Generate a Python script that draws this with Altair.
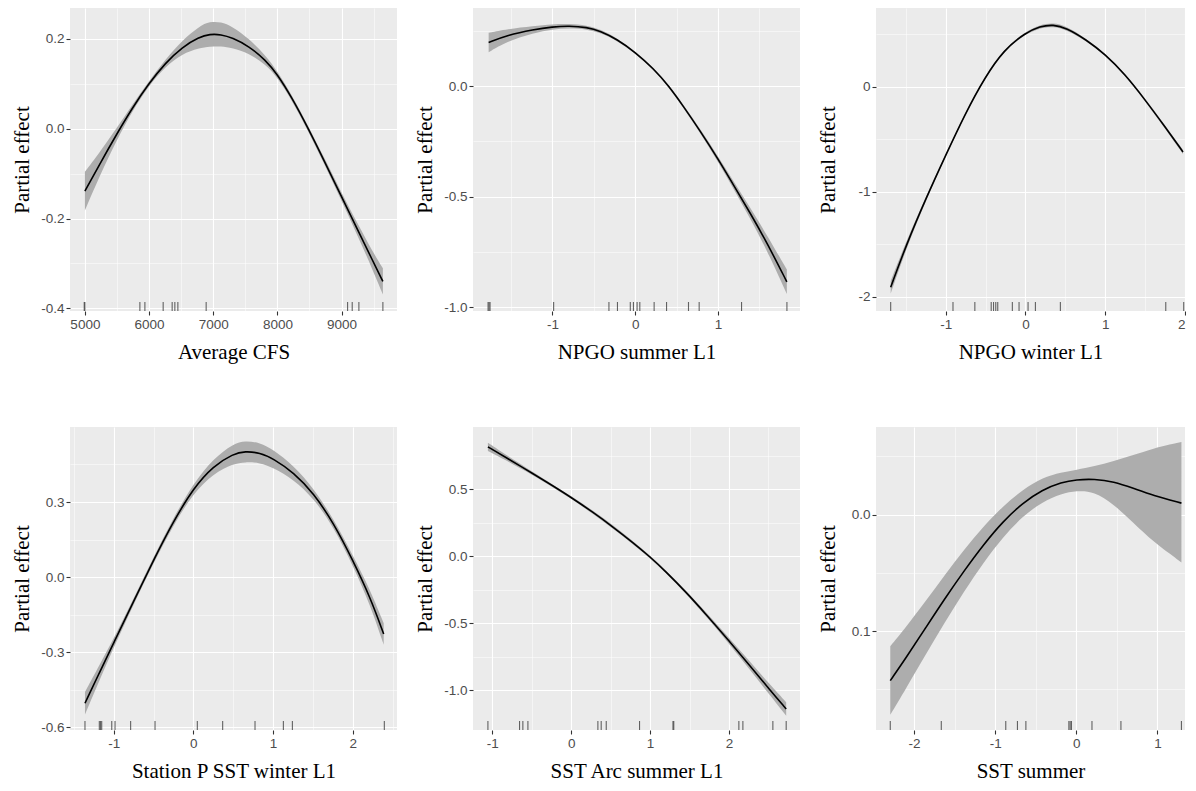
import json
import altair as alt
import pandas as pd

# ---------------- Panel 1: Average CFS ----------------
P1_X = [5000, 5218, 5499, 5738, 5997, 6257, 6517, 6777, 6950, 7120, 7296, 7556, 7816, 7997, 8231, 8465, 8725, 8984, 9244, 9478, 9644]
P1_FIT = [-0.139, -0.082, -0.011, 0.046, 0.101, 0.147, 0.182, 0.204, 0.211, 0.210, 0.203, 0.184, 0.153, 0.122, 0.068, 0.005, -0.070, -0.147, -0.223, -0.292, -0.340]
P1_LO = [-0.182, -0.109, -0.024, 0.039, 0.096, 0.139, 0.167, 0.180, 0.183, 0.184, 0.180, 0.168, 0.143, 0.115, 0.062, -0.001, -0.077, -0.156, -0.236, -0.312, -0.369]
P1_HI = [-0.096, -0.055, 0.002, 0.053, 0.106, 0.155, 0.197, 0.228, 0.239, 0.238, 0.228, 0.201, 0.163, 0.129, 0.074, 0.011, -0.063, -0.138, -0.210, -0.272, -0.311]
P1_RUG = [4990, 5000, 5857, 5935, 6220, 6360, 6402, 6449, 6890, 9094, 9166, 9270, 9644]
P1_X_TICKS = [5000, 6000, 7000, 8000, 9000]
P1_X_LABELS = ["5000", "6000", "7000", "8000", "9000"]
P1_X_MINOR = [5500, 6500, 7500, 8500, 9500]
P1_Y_TICKS = [-0.4, -0.2, 0.0, 0.2]
P1_Y_LABELS = ["-0.4", "-0.2", "0.0", "0.2"]
P1_Y_MINOR = [-0.3, -0.1, 0.1]

# ---------------- Panel 2: NPGO summer L1 ----------------
P2_X = [-1.771, -1.549, -1.227, -1.0, -0.800, -0.584, -0.423, -0.221, 0.0, 0.221, 0.402, 0.583, 0.785, 1.0, 1.187, 1.388, 1.590, 1.831]
P2_FIT = [0.197, 0.230, 0.256, 0.268, 0.272, 0.266, 0.249, 0.212, 0.153, 0.079, 0.002, -0.092, -0.203, -0.329, -0.447, -0.573, -0.707, -0.884]
P2_LO = [0.153, 0.202, 0.240, 0.256, 0.262, 0.257, 0.241, 0.206, 0.148, 0.074, -0.004, -0.099, -0.212, -0.341, -0.464, -0.597, -0.741, -0.939]
P2_HI = [0.241, 0.258, 0.272, 0.280, 0.282, 0.275, 0.257, 0.218, 0.158, 0.084, 0.008, -0.085, -0.194, -0.317, -0.430, -0.549, -0.673, -0.829]
P2_RUG = [-1.778, -1.766, -1.754, -0.986, -0.318, -0.215, -0.060, -0.022, 0.022, 0.055, 0.228, 0.378, 0.643, 0.772, 1.284, 1.832]
P2_X_TICKS = [-1, 0, 1]
P2_X_LABELS = ["-1", "0", "1"]
P2_X_MINOR = [-1.5, -0.5, 0.5, 1.5]
P2_Y_TICKS = [-1.0, -0.5, 0.0]
P2_Y_LABELS = ["-1.0", "-0.5", "0.0"]
P2_Y_MINOR = [-0.75, -0.25, 0.25]

# ---------------- Panel 3: NPGO winter L1 ----------------
P3_X = [-1.689, -1.493, -1.247, -1.0, -0.757, -0.511, -0.266, 0.0, 0.184, 0.348, 0.511, 0.757, 1.0, 1.247, 1.493, 1.738, 1.975]
P3_FIT = [-1.909, -1.505, -1.063, -0.653, -0.259, 0.088, 0.356, 0.514, 0.577, 0.593, 0.562, 0.451, 0.309, 0.120, -0.117, -0.369, -0.621]
P3_LO = [-1.969, -1.540, -1.083, -0.665, -0.269, 0.078, 0.346, 0.502, 0.562, 0.575, 0.545, 0.439, 0.299, 0.110, -0.129, -0.384, -0.641]
P3_HI = [-1.849, -1.470, -1.043, -0.641, -0.249, 0.098, 0.366, 0.526, 0.592, 0.611, 0.579, 0.463, 0.319, 0.130, -0.105, -0.354, -0.601]
P3_RUG = [-1.689, -0.908, -0.634, -0.429, -0.400, -0.372, -0.347, -0.164, -0.080, 0.033, 0.125, 0.438, 1.759, 1.984]
P3_X_TICKS = [-1, 0, 1, 2]
P3_X_LABELS = ["-1", "0", "1", "2"]
P3_X_MINOR = [-1.5, -0.5, 0.5, 1.5]
P3_Y_TICKS = [-2, -1, 0]
P3_Y_LABELS = ["-2", "-1", "0"]
P3_Y_MINOR = [-1.5, -0.5, 0.5]

# ---------------- Panel 4: Station P SST winter L1 ----------------
P4_X = [-1.360, -1.172, -1.0, -0.753, -0.502, -0.251, 0.0, 0.251, 0.502, 0.649, 0.837, 1.0, 1.259, 1.510, 1.762, 2.0, 2.222, 2.389]
P4_FIT = [-0.505, -0.378, -0.264, -0.100, 0.066, 0.222, 0.355, 0.444, 0.493, 0.503, 0.497, 0.474, 0.418, 0.335, 0.215, 0.068, -0.083, -0.228]
P4_LO = [-0.550, -0.408, -0.282, -0.112, 0.054, 0.208, 0.335, 0.414, 0.453, 0.460, 0.457, 0.438, 0.390, 0.315, 0.199, 0.048, -0.113, -0.271]
P4_HI = [-0.460, -0.348, -0.246, -0.088, 0.078, 0.236, 0.375, 0.474, 0.533, 0.546, 0.537, 0.510, 0.446, 0.355, 0.231, 0.088, -0.053, -0.185]
P4_RUG = [-1.360, -1.180, -1.165, -1.150, -1.024, -0.983, -0.787, -0.481, 0.050, 0.368, 0.774, 1.130, 1.243, 2.397]
P4_X_TICKS = [-1, 0, 1, 2]
P4_X_LABELS = ["-1", "0", "1", "2"]
P4_X_MINOR = [-1.5, -0.5, 0.5, 1.5, 2.5]
P4_Y_TICKS = [-0.6, -0.3, 0.0, 0.3]
P4_Y_LABELS = ["-0.6", "-0.3", "0.0", "0.3"]
P4_Y_MINOR = [-0.45, -0.15, 0.15, 0.45]

# ---------------- Panel 5: SST Arc summer L1 ----------------
P5_X = [-1.056, -0.824, -0.486, -0.232, 0.0, 0.275, 0.528, 0.782, 1.0, 1.204, 1.458, 1.711, 2.0, 2.260, 2.514, 2.725]
P5_FIT = [0.815, 0.734, 0.616, 0.524, 0.438, 0.328, 0.219, 0.102, -0.005, -0.117, -0.269, -0.434, -0.630, -0.812, -0.993, -1.138]
P5_LO = [0.785, 0.714, 0.604, 0.514, 0.428, 0.316, 0.205, 0.090, -0.015, -0.127, -0.281, -0.450, -0.652, -0.842, -1.033, -1.188]
P5_HI = [0.845, 0.754, 0.628, 0.534, 0.448, 0.340, 0.233, 0.114, 0.005, -0.107, -0.257, -0.418, -0.608, -0.782, -0.953, -1.088]
P5_RUG = [-1.056, -0.655, -0.613, -0.549, 0.338, 0.380, 0.444, 0.866, 1.290, 1.300, 2.125, 2.176, 2.556, 2.725]
P5_X_TICKS = [-1, 0, 1, 2]
P5_X_LABELS = ["-1", "0", "1", "2"]
P5_X_MINOR = [-0.5, 0.5, 1.5, 2.5]
P5_Y_TICKS = [-1.0, -0.5, 0.0, 0.5]
P5_Y_LABELS = ["-1.0", "-0.5", "0.0", "0.5"]
P5_Y_MINOR = [-0.75, -0.25, 0.25, 0.75]

# ---------------- Panel 6: SST summer ----------------
P6_X = [-2.294, -2.106, -1.865, -1.625, -1.384, -1.143, -0.903, -0.662, -0.421, -0.181, 0.0, 0.221, 0.461, 0.702, 0.943, 1.296]
P6_FIT = [-0.1426, -0.1236, -0.098, -0.0724, -0.0483, -0.0256, -0.0057, 0.0099, 0.0213, 0.0278, 0.0301, 0.0307, 0.0284, 0.0227, 0.0165, 0.0099]
P6_LO = [-0.172, -0.150, -0.121, -0.093, -0.066, -0.041, -0.019, -0.0015, 0.011, 0.018, 0.0205, 0.020, 0.009, -0.007, -0.023, -0.041]
P6_HI = [-0.113, -0.097, -0.075, -0.052, -0.030, -0.010, 0.0075, 0.0213, 0.0318, 0.0365, 0.0385, 0.0415, 0.046, 0.051, 0.057, 0.0625]
P6_RUG = [-2.294, -1.665, -0.870, -0.726, -0.622, -0.092, -0.076, -0.060, 0.193, 0.550, 1.296]
P6_X_TICKS = [-2, -1, 0, 1]
P6_X_LABELS = ["-2", "-1", "0", "1"]
P6_X_MINOR = [-1.5, -0.5, 0.5]
P6_Y_TICKS = [-0.1, 0.0]
P6_Y_LABELS = ["0.1", "0.0"]
P6_Y_MINOR = [-0.15, -0.05, 0.05]

Y_TITLE = "Partial effect"
X_TITLES = ["Average CFS", "NPGO summer L1", "NPGO winter L1",
            "Station P SST winter L1", "SST Arc summer L1", "SST summer"]

BAND = "#ADADAD"
PANEL_BG = "#EBEBEB"
W = 327
W_LAST = 309
H = 303
INTERP = "basis"


def lab_expr(vals, labs):
    parts = [f"datum.value == {v} ? '{l}'" for v, l in zip(vals, labs)]
    return " : ".join(parts) + " : ''"


def major_test(vals):
    return f"indexof({json.dumps(vals)}, datum.value) >= 0"


def make_axis(title, major, labels, minor, flush=False):
    test = major_test(major)
    kw = dict(
        title=title,
        values=sorted(major + minor),
        labelExpr=lab_expr(major, labels),
        gridWidth={"condition": {"test": test, "value": 1.1}, "value": 0.5},
        tickOpacity={"condition": {"test": test, "value": 1}, "value": 0},
        labelOverlap=False,
    )
    if flush:
        kw["labelFlush"] = True
    return alt.Axis(**kw)


def panel(xs, fit, lo, hi, rug, xdom, ydom, xax, yax, w, h):
    df = pd.DataFrame({"x": xs, "fit": fit, "lo": lo, "hi": hi})
    rdf = pd.DataFrame({"x": rug})
    xsc = alt.Scale(domain=xdom, nice=False, zero=False)
    ysc = alt.Scale(domain=ydom, nice=False, zero=False)
    band = alt.Chart(df).mark_area(color=BAND, interpolate=INTERP, clip=True).encode(
        x=alt.X("x:Q", scale=xsc, axis=xax),
        y=alt.Y("lo:Q", scale=ysc, axis=yax),
        y2="hi:Q",
    )
    line = alt.Chart(df).mark_line(color="black", strokeWidth=1.6, interpolate=INTERP, clip=True).encode(
        x=alt.X("x:Q", scale=xsc, axis=xax),
        y=alt.Y("fit:Q", scale=ysc, axis=yax),
    )
    rugm = alt.Chart(rdf).mark_rule(color="#333333", strokeWidth=1.1, opacity=0.75).encode(
        x=alt.X("x:Q", scale=xsc, axis=xax),
        y=alt.value(h),
        y2=alt.value(h - 9),
    )
    return alt.layer(band, line, rugm).properties(width=w, height=h)


p1 = panel(P1_X, P1_FIT, P1_LO, P1_HI, P1_RUG, [4768, 9864], [-0.406, 0.269],
           make_axis(X_TITLES[0], P1_X_TICKS, P1_X_LABELS, P1_X_MINOR),
           make_axis(Y_TITLE, P1_Y_TICKS, P1_Y_LABELS, P1_Y_MINOR), W, H)
p2 = panel(P2_X, P2_FIT, P2_LO, P2_HI, P2_RUG, [-1.96, 1.99], [-1.016, 0.353],
           make_axis(X_TITLES[1], P2_X_TICKS, P2_X_LABELS, P2_X_MINOR),
           make_axis(Y_TITLE, P2_Y_TICKS, P2_Y_LABELS, P2_Y_MINOR), W, H)
p3 = panel(P3_X, P3_FIT, P3_LO, P3_HI, P3_RUG, [-1.873, 2.0], [-2.136, 0.751],
           make_axis(X_TITLES[2], P3_X_TICKS, P3_X_LABELS, P3_X_MINOR, flush=True),
           make_axis(Y_TITLE, P3_Y_TICKS, P3_Y_LABELS, P3_Y_MINOR), W_LAST, H)
p4 = panel(P4_X, P4_FIT, P4_LO, P4_HI, P4_RUG, [-1.548, 2.556], [-0.612, 0.600],
           make_axis(X_TITLES[3], P4_X_TICKS, P4_X_LABELS, P4_X_MINOR),
           make_axis(Y_TITLE, P4_Y_TICKS, P4_Y_LABELS, P4_Y_MINOR), W, H)
p5 = panel(P5_X, P5_FIT, P5_LO, P5_HI, P5_RUG, [-1.245, 2.9], [-1.295, 0.963],
           make_axis(X_TITLES[4], P5_X_TICKS, P5_X_LABELS, P5_X_MINOR),
           make_axis(Y_TITLE, P5_Y_TICKS, P5_Y_LABELS, P5_Y_MINOR), W, H)
p6 = panel(P6_X, P6_FIT, P6_LO, P6_HI, P6_RUG, [-2.47, 1.34], [-0.185, 0.0753],
           make_axis(X_TITLES[5], P6_X_TICKS, P6_X_LABELS, P6_X_MINOR),
           make_axis(Y_TITLE, P6_Y_TICKS, P6_Y_LABELS, P6_Y_MINOR), W_LAST, H)

row1 = alt.hconcat(p1, p2, p3, spacing=17)
row2 = alt.hconcat(p4, p5, p6, spacing=17)

chart = (
    alt.vconcat(row1, row2, spacing=64)
    .resolve_scale(x="independent", y="independent")
    .properties(padding={"left": 3, "top": 0, "right": 0, "bottom": 0}, background="white")
    .configure_view(fill=PANEL_BG, stroke=None)
    .configure_axis(
        labelFont="Liberation Sans",
        labelFontSize=13.5,
        labelColor="#4D4D4D",
        titleFont="Liberation Serif",
        titleFontSize=21,
        titleFontWeight="normal",
        titleColor="#000000",
        tickColor="#333333",
        tickSize=4,
        tickWidth=1.1,
        domain=False,
        gridColor="#FFFFFF",
        labelPadding=2,
    )
    .configure_axisY(minExtent=35, maxExtent=35, titlePadding=3)
    .configure_axisX(titlePadding=11)
)

chart.save("out.html", embed_options={"renderer": "svg", "actions": False})
